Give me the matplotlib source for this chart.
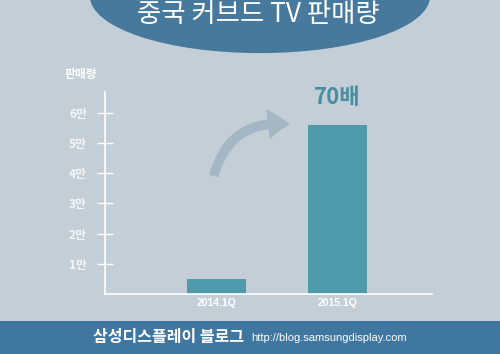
import matplotlib.pyplot as plt
from matplotlib.patches import Ellipse, Rectangle, FancyArrowPatch

plt.rcParams['font.family'] = ['Noto Sans CJK KR', 'DejaVu Sans']

# 데이터
categories = ['2014.1Q', '2015.1Q']
sales = [5000, 56000]
tick_values = [10000, 20000, 30000, 40000, 50000, 60000]
tick_labels = ['1만', '2만', '3만', '4만', '5만', '6만']

bg = '#c3ced6'
bar_color = '#4f9aab'
band_color = '#3f77a0'

fig = plt.figure(figsize=(5, 3.54), dpi=100)
fig.patch.set_facecolor(bg)

# 상단 타원 + 제목
ell = Ellipse((0.52, 1.01), 0.68, 0.32, transform=fig.transFigure,
              facecolor='#46799c', edgecolor='none')
fig.patches.append(ell)
fig.text(0.516, 0.958, '중국 커브드 TV 판매량', color='white', fontsize=19,
         ha='center', va='center')

# 하단 띠
fig.patches.append(Rectangle((0, 0), 1, 0.093, transform=fig.transFigure,
                             facecolor=band_color, edgecolor='none'))
fig.text(0.338, 0.047, '삼성디스플레이 블로그', color='white', fontsize=11.5,
         ha='center', va='center', fontweight='bold')
fig.text(0.658, 0.045, 'http://blog.samsungdisplay.com', color='white',
         fontsize=8, ha='center', va='center', family='Liberation Sans')

ax = fig.add_axes([0.21, 0.1695, 0.654, 0.5705])
ax.set_facecolor(bg)
x = range(len(categories))
ax.bar(x, sales, width=0.488, color=bar_color)
ax.set_xlim(-0.921, 1.781)
ax.set_ylim(0, 66900)

for s in ['top', 'right']:
    ax.spines[s].set_visible(False)
ax.spines['left'].set_color('white')
ax.spines['bottom'].set_color('white')
ax.spines['left'].set_linewidth(1.2)
ax.spines['bottom'].set_linewidth(1.2)

ax.set_yticks(tick_values)
ax.set_yticklabels(tick_labels, color='#f4f6f8', fontsize=8.5, fontweight='bold')
ax.tick_params(axis='y', direction='inout', length=12, width=1, color='white', pad=7)
ax.set_xticks(list(x))
ax.set_xticklabels(categories, color='white', fontsize=7.5, family='Liberation Sans',
                   fontweight='bold')
ax.tick_params(axis='x', length=0, pad=3)

fig.text(0.162, 0.79, '판매량', color='white', fontsize=8.5, ha='center',
         va='center', fontweight='bold')

# 증가 배수
ax.text(1, sales[1] + 9000, '70배', color='#4a8fa0', fontsize=16,
        fontweight='bold', ha='center', va='center')

# 곡선 화살표
arrow = FancyArrowPatch((0.426, 0.495), (0.586, 0.647), transform=fig.transFigure,
                        connectionstyle='arc3,rad=-0.45',
                        arrowstyle='simple,head_width=22,head_length=16,tail_width=7',
                        color='#a3b7c5', lw=0)
fig.patches.append(arrow)

fig.savefig('out.png', dpi=100, facecolor=bg)
